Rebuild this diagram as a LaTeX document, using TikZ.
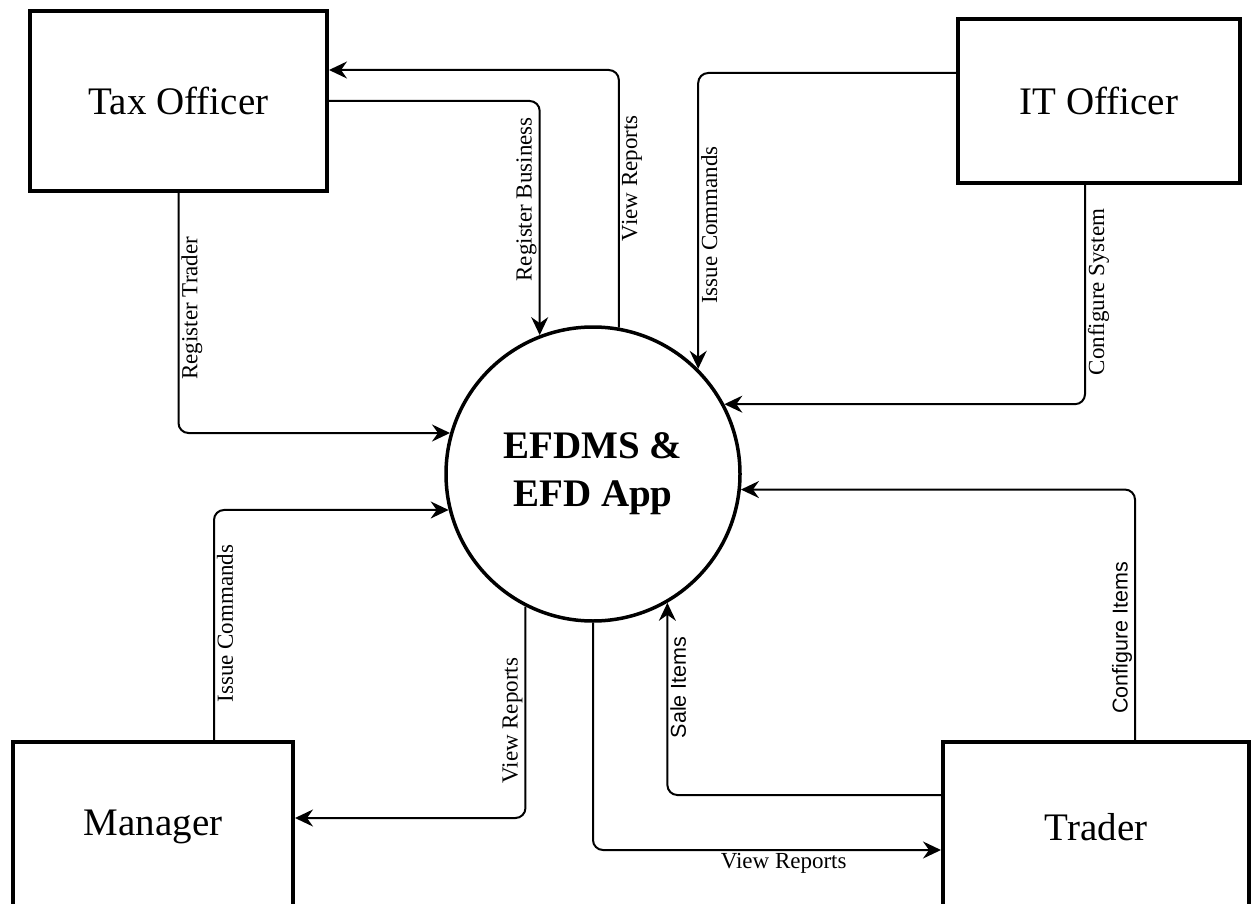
\documentclass[tikz,border=0pt]{standalone}
\usepackage{fontspec}
\setmainfont{Liberation Serif}
\setsansfont{Liberation Sans}
\usetikzlibrary{arrows.meta}

\begin{document}
\begin{tikzpicture}[x=1pt,y=-1pt,
				entity/.style={rectangle,draw,line width=4pt,font=\fontsize{39}{46}\selectfont},
				process/.style={circle,draw,line width=3.5pt,minimum size=294pt,align=center,font=\fontsize{39}{48}\selectfont\bfseries},
				flow/.style={line width=2pt,rounded corners=10pt,-{Stealth[length=18pt,width=17pt,inset=6pt]}},
				lbl/.style={font=\fontsize{23}{26}\selectfont,inner sep=2pt},
				lbls/.style={font=\sffamily\fontsize{21.5}{24}\selectfont,inner sep=2pt}]
	\useasboundingbox (0,0) rectangle (1258,904);
	\node[entity,minimum width=297pt,minimum height=180pt] (tax) at (178.5,101) {Tax Officer};
	\node[entity,minimum width=282pt,minimum height=164pt] (it) at (1099,101) {IT Officer};
	\node[entity,minimum width=280pt,minimum height=170pt] (mgr) at (153,827) {Manager};
	\node[entity,minimum width=306pt,minimum height=170pt] (trd) at (1096,827) {Trader};
	\node[process] (efd) at (593,474) {EFDMS \&\\EFD App};
	\draw[flow] (efd.80) |- node[lbl,rotate=90,anchor=north,pos=0.29] (vr1) {View Reports} (tax.east |- 0,70);
	\draw[flow] (tax.east) -| node[lbl,rotate=90,anchor=south,pos=0.71] (rb) {Register Business} (efd.111);
	\draw[flow] (tax.south) |- node[lbl,rotate=90,anchor=north,pos=0.24] (rt) {Register Trader} (efd.164);
	\draw[flow] (it.west |- 0,73) -| node[lbl,rotate=90,anchor=north,pos=0.757] (ic1) {Issue Commands} (efd.45);
	\draw[flow] (it.south -| 1085,0) |- node[lbl,rotate=90,anchor=north,pos=0.244] (cs) {Configure System} (efd.28);
	\draw[flow] (mgr.north -| 214,0) |- node[lbl,rotate=90,anchor=north,pos=0.253] (ic2) {Issue Commands} (efd.194);
	\draw[flow] (efd.243) |- node[lbl,rotate=90,anchor=south,pos=0.27] (vr2) {View Reports} (mgr.east |- 0,818);
	\draw[flow] (efd.south) |- node[lbl,anchor=north,pos=0.774] (vr3) {View Reports} (trd.west |- 0,850);
	\draw[flow] (trd.west |- 0,795) -| node[lbls,rotate=90,anchor=north,pos=0.78] (si) {Sale Items} (efd.300);
	\draw[flow] (trd.north -| 1135,0) |- node[lbls,rotate=90,anchor=south,pos=0.204] (ci) {Configure Items} (efd.354);
\end{tikzpicture}
\end{document}
